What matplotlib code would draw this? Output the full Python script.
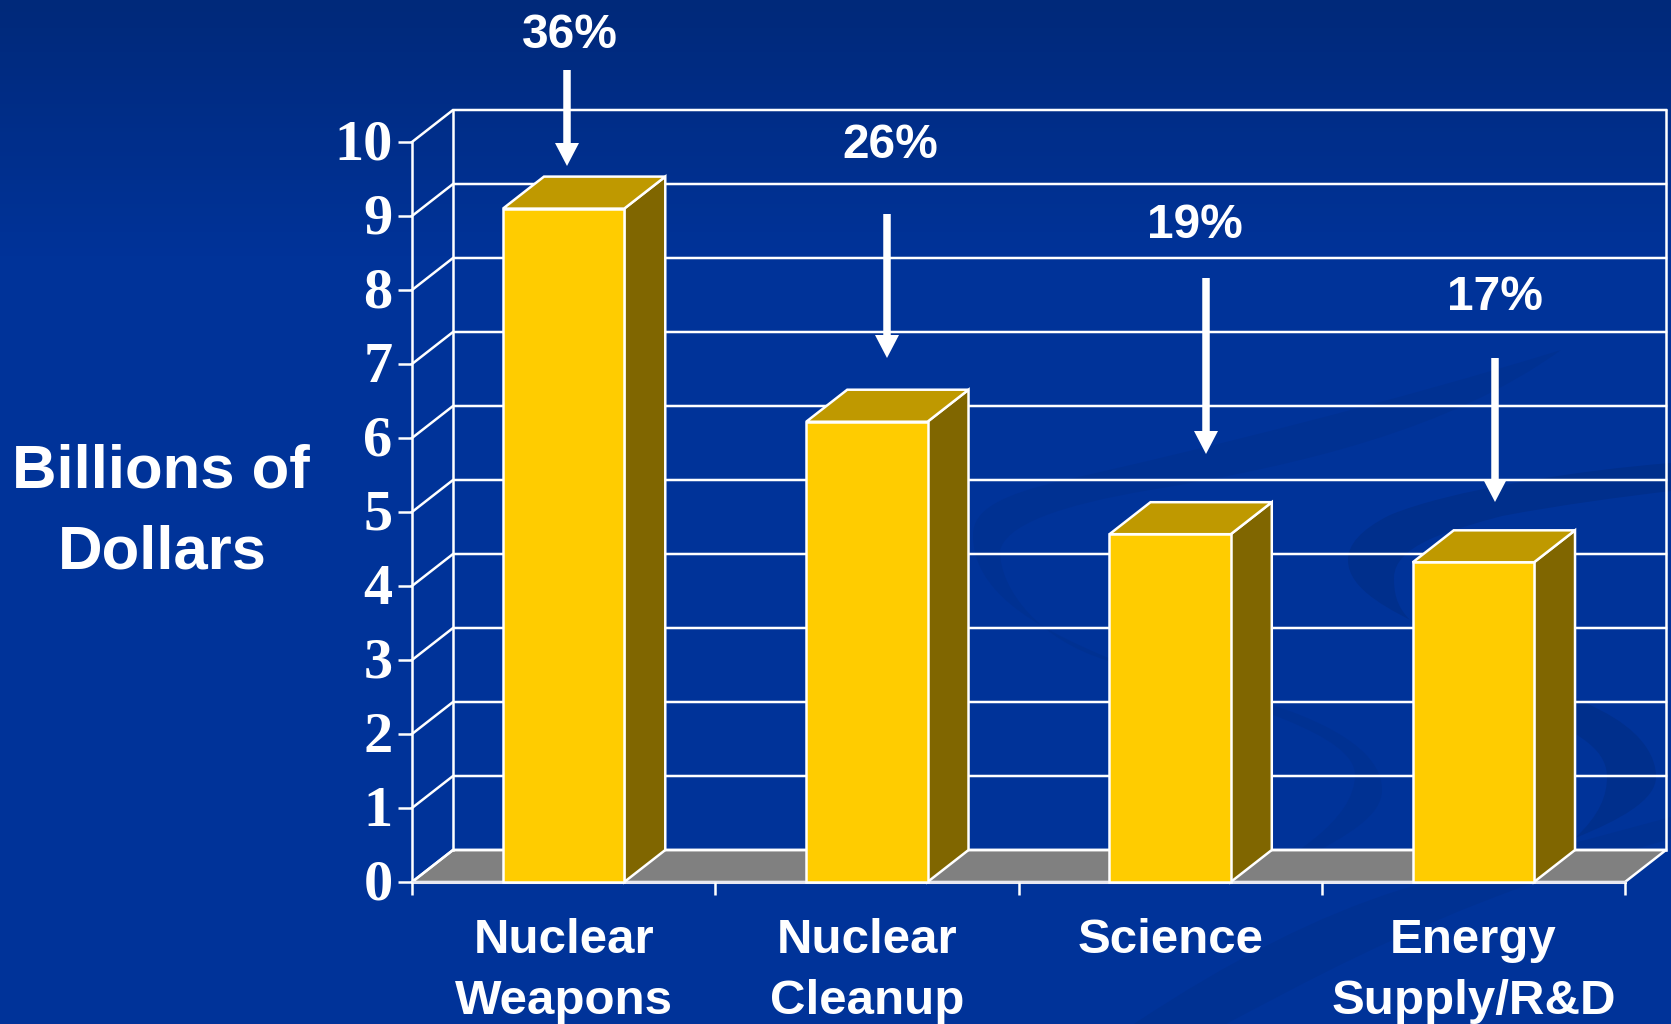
import numpy as np
import matplotlib
matplotlib.use('Agg')
import matplotlib.pyplot as plt
from matplotlib.path import Path
from matplotlib.patches import PathPatch, FancyArrow

# ==========================
# Data
# ==========================
categories = ['Nuclear\nWeapons', 'Nuclear\nCleanup', 'Science', 'Energy\nSupply/R&D']
values = [9.1, 6.22, 4.7, 4.32]
percents = ['36%', '26%', '19%', '17%']
y_ticks = list(range(0, 11))

WHITE = '#FFFFFF'
FRONT = '#FFCC00'
TOP = '#BF9900'
SIDE = '#806600'
FLOOR = '#808080'
W, H = 1671, 1024

fig = plt.figure(figsize=(W / 100, H / 100), dpi=100)

# ==========================
# Background (pixel coords)
# ==========================
bg = fig.add_axes([0, 0, 1, 1], zorder=0)
bg.set_xlim(0, W)
bg.set_ylim(H, 0)
bg.axis('off')

top_col = np.array([0, 41, 122]) / 255
mid_col = np.array([0, 51, 153]) / 255
t = np.clip(np.linspace(0, 1, 256) / 0.25, 0, 1)[:, None, None]
grad = top_col[None, None, :] * (1 - t) + mid_col[None, None, :] * t
bg.imshow(grad, extent=[0, W, H, 0], aspect='auto', zorder=0)


def ribbon(points, color):
    # points: start, then bezier triples
    verts = list(points) + [points[0]]
    codes = [Path.MOVETO] + [Path.CURVE4] * (len(points) - 1) + [Path.CLOSEPOLY]
    bg.add_patch(PathPatch(Path(verts, codes), fc=color, ec='none', zorder=1))


dark = '#002F8C'
faint = '#003192'
ribbon([(1561, 350), (1400, 400), (1200, 450), (1065, 480),
        (1000, 495), (973, 510), (973, 535),
        (973, 590), (1030, 625), (1106, 657),
        (1170, 680), (1250, 695), (1300, 715),
        (1350, 735), (1382, 760), (1382, 790),
        (1382, 815), (1350, 835), (1300, 860),
        (1280, 870), (1250, 880), (1230, 890),
        (1290, 860), (1355, 820), (1355, 775),
        (1355, 735), (1250, 705), (1106, 660),
        (1040, 640), (1000, 590), (1000, 551),
        (1005, 525), (1060, 505), (1150, 490),
        (1300, 465), (1450, 430), (1561, 350)], faint)
ribbon([(1671, 463), (1580, 470), (1450, 490), (1390, 515),
        (1360, 530), (1348, 545), (1348, 560),
        (1348, 590), (1390, 610), (1430, 630),
        (1500, 660), (1560, 690), (1600, 710),
        (1640, 730), (1656, 755), (1656, 777),
        (1656, 800), (1620, 820), (1575, 838),
        (1600, 815), (1607, 795), (1607, 777),
        (1607, 745), (1570, 730), (1520, 705),
        (1470, 680), (1430, 640), (1410, 620),
        (1395, 605), (1394, 590), (1394, 578),
        (1394, 545), (1450, 530), (1502, 516),
        (1560, 505), (1620, 497), (1671, 491)], dark)
ribbon([(1671, 817), (1550, 850), (1450, 875), (1400, 890),
        (1320, 915), (1230, 960), (1134, 1024),
        (1160, 1024), (1200, 1024), (1226, 1024),
        (1300, 985), (1400, 930), (1533, 883),
        (1580, 865), (1630, 850), (1671, 839)], faint)

# ==========================
# Chart axes: x = category slots, y = billions
# ==========================
x0, x1 = 412, 1625
y0, y10 = 882, 142
ax = fig.add_axes([x0 / W, 1 - y0 / H, (x1 - x0) / W, (y0 - y10) / H], zorder=1)
ax.set_xlim(0, 4)
ax.set_ylim(0, 10)
ax.patch.set_alpha(0)
for s in ax.spines.values():
    s.set_visible(False)

dx = 41 / ((x1 - x0) / 4)
dy = 32 / ((y0 - y10) / 10)
bar_w = 0.40
lw = 1.8

# floor
ax.fill([0, 4, 4 + dx, dx], [0, 0, dy, dy], fc=FLOOR, ec=WHITE, lw=lw, clip_on=False, zorder=1)

# walls and grid
for v in y_ticks:
    ax.plot([0, dx, 4 + dx], [v, v + dy, v + dy], color=WHITE, lw=lw, clip_on=False,
            solid_joinstyle='miter', zorder=1)
ax.plot([dx, dx], [dy, 10 + dy], color=WHITE, lw=lw, clip_on=False, zorder=1)
ax.plot([4 + dx, 4 + dx], [dy, 10 + dy], color=WHITE, lw=lw, clip_on=False, zorder=1)
ax.plot([0, 0], [0, 10], color=WHITE, lw=lw, clip_on=False, zorder=1)
ax.plot([0, 4], [0, 0], color='#E8E8F0', lw=lw + 0.4, clip_on=False, zorder=1)

# bars
for i, v in enumerate(values):
    left = i + 0.5 - bar_w / 2
    right = left + bar_w
    ax.fill([right, right + dx, right + dx, right], [0, dy, v + dy, v],
            fc=SIDE, ec=WHITE, lw=lw, clip_on=False, zorder=3)
    ax.fill([left, right, right + dx, left + dx], [v, v, v + dy, v + dy],
            fc=TOP, ec=WHITE, lw=lw, clip_on=False, zorder=3)
    ax.fill([left, right, right, left], [0, 0, v, v],
            fc=FRONT, ec=WHITE, lw=lw, clip_on=False, zorder=4)

# ticks
ax.set_xticks(range(5))
ax.set_xticklabels([])
ax.set_yticks(y_ticks)
ax.set_yticklabels([])
ax.tick_params(axis='both', color=WHITE, width=1.8, length=10)
ax.tick_params(axis='x', length=9)

for v in y_ticks:
    ax.annotate(str(v), (0, v), xytext=(-14, 1.5), textcoords='offset points',
                ha='right', va='center_baseline', color=WHITE, fontsize=42,
                fontfamily='Liberation Serif', fontweight='bold', annotation_clip=False)

for i, c in enumerate(categories):
    ax.annotate(c, (i + 0.5, 0), xytext=(0, -26), textcoords='offset points',
                ha='center', va='top', color=WHITE, fontsize=35.5, linespacing=1.46,
                family='Liberation Sans', weight='bold', annotation_clip=False)

# ==========================
# Overlay: labels and arrows (pixel coords)
# ==========================
top = fig.add_axes([0, 0, 1, 1], zorder=2)
top.set_xlim(0, W)
top.set_ylim(H, 0)
top.axis('off')

top.text(161, 472, 'Billions of', ha='center', va='center', color=WHITE, fontsize=44.4,
         family='Liberation Sans', weight='bold')
top.text(162, 553, 'Dollars', ha='center', va='center', color=WHITE, fontsize=44.4,
         family='Liberation Sans', weight='bold')

label_pos = [(570, 35), (890, 145), (1195, 226), (1495, 297)]
arrow_pos = [(567, 70, 166), (887, 214, 358), (1206, 278, 454), (1495, 358, 502)]
for p, (lx, ly), (ax_x, a_start, a_end) in zip(percents, label_pos, arrow_pos):
    top.text(lx, ly, p, ha='center', va='center', color=WHITE, fontsize=34.5,
             family='Liberation Sans', weight='bold')
    top.add_patch(FancyArrow(ax_x, a_start, 0, a_end - a_start, width=7.5, head_width=24,
                             head_length=23, length_includes_head=True, fc=WHITE, ec='none'))

fig.savefig('out.png', dpi=100)
